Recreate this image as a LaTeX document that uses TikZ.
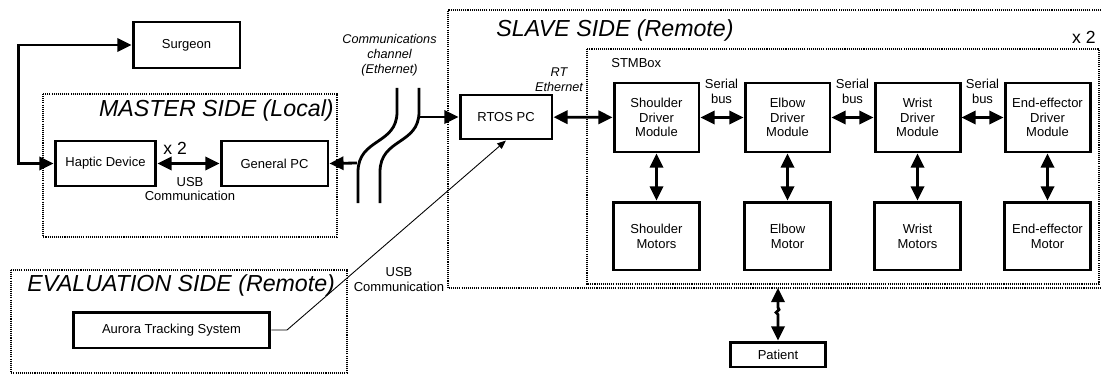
\documentclass[tikz,border=0pt]{standalone}
\usepackage{fontspec}
\setmainfont{Liberation Sans}
\usetikzlibrary{arrows.meta}
\newcommand{\blkfont}{\fontsize{7.4}{8.4}\selectfont}
\newcommand{\sidefont}{\fontsize{13.2}{15}\selectfont\itshape}
\newcommand{\repfont}{\fontsize{10}{12}\selectfont}
\tikzset{
	blk/.style={draw, line width=1.7pt, align=center, font=\blkfont, inner sep=1pt},
	drvbox/.style={blk, minimum width=1.7cm, minimum height=1.38cm},
	motbox/.style={blk, minimum width=1.72cm, minimum height=1.36cm},
	grp/.style={line width=1.2pt, dash pattern=on 0.6pt off 0.6pt},
	conn/.style={line width=1.6pt},
	lbl/.style={align=center, font=\blkfont, inner sep=0pt},
	ilbl/.style={align=center, font=\fontsize{7.2}{8.5}\selectfont\itshape, inner sep=0pt},
	>={Triangle[length=8pt,width=7.5pt]}
}

\begin{document}
\begin{tikzpicture}[x=0.02cm, y=-0.02cm]
	\useasboundingbox (0,0) rectangle (1101,375);
	
	% dotted groups
	\draw[grp] (43,94) rectangle (337,237);
	\draw[grp] (11,270) rectangle (347,373);
	\draw[grp] (1101,10) -- (448,10) -- (448,288) -- (1101,288);
	\draw[grp] (587,49) rectangle (1099,284);
	
	\node[anchor=east, font=\sidefont, inner sep=0pt] (mastertitle) at (334,110) {MASTER SIDE (Local)};
	\node[font=\sidefont, inner sep=0pt] (slavetitle) at (615,30) {SLAVE SIDE (Remote)};
	\node[anchor=west, font=\sidefont, inner sep=0pt] (evaltitle) at (27,285) {EVALUATION SIDE (Remote)};
	\node[lbl, anchor=west] (stmlabel) at (611,63) {STMBox};
	\node[anchor=east, font=\repfont, inner sep=0pt] (reptop) at (1096,37) {x 2};
	
	% blocks
	\node[blk, minimum width=2.14cm, minimum height=0.92cm] (surgeon) at (186.5,45) {Surgeon};
	\node[blk, minimum width=2.02cm, minimum height=0.9cm] (haptic) at (105.5,163.5) {Haptic Device};
	\node[blk, minimum width=2.14cm, minimum height=0.9cm] (genpc) at (274.5,163.5) {General PC};
	\node[blk, minimum width=1.84cm, minimum height=0.88cm] (rtos) at (506,117) {RTOS PC};
	\node[blk, minimum width=3.94cm, minimum height=0.72cm] (aurora) at (171.5,330) {Aurora Tracking System};
	\node[blk, minimum width=1.9cm, minimum height=0.5cm] (patient) at (778,354.5) {Patient};
	
	\foreach \nm/\x/\dtxt/\mtxt in {shoulder/656.5/{Shoulder\\Driver\\Module}/{Shoulder\\Motors},
		elbow/787.5/{Elbow\\Driver\\Module}/{Elbow\\Motor},
		wrist/917.5/{Wrist\\Driver\\Module}/{Wrist\\Motors},
		end/1047.5/{End-effector\\Driver\\Module}/{End-effector\\Motor}}{
		\node[drvbox] (\nm-drv) at (\x,117.5) {\dtxt};
		\node[motbox] (\nm-mot) at (\x,236) {\mtxt};
		\draw[conn,<->] (\nm-drv) -- (\nm-mot);
	}
	
	\foreach \a/\b/\x in {shoulder/elbow/721.5, elbow/wrist/852.5, wrist/end/982.5}{
		\draw[conn,<->] (\a-drv) -- (\b-drv);
		\node[lbl] (bus-\a) at (\x,91.5) {Serial\\bus};
	}
	
	% master side
	\draw[conn,<->] (surgeon.west) -- ++(-113,0) |- (haptic.west);
	\draw[conn,<->] (haptic) -- (genpc);
	\node[anchor=west, font=\repfont, inner sep=0pt] (repmaster) at (163,148) {x 2};
	\node[lbl] (usbmaster) at (190,189) {USB\\Communication};
	
	% communications channel
	\draw[conn] (397,88) -- (397,112) .. controls (397,145) and (358,138) .. (358,172) -- (358,203);
	\draw[conn] (419,88) -- (419,112) .. controls (419,145) and (380,138) .. (380,172) -- (380,203);
	\node[ilbl] (chanlabel) at (389.5,55) {Communications\\channel\\(Ethernet)};
	\coordinate (chanL) at (357,163);
	\coordinate (chanR) at (420,117);
	\draw[conn,->] (chanL) -- (genpc.east);
	\draw[conn,->] (chanR) -- (rtos.west);
	
	% slave side
	\draw[conn,<->] (rtos) -- (shoulder-drv);
	\node[ilbl] (rteth) at (559,79.5) {RT\\Ethernet};
	
	% evaluation side
	\coordinate (usbbend) at (287,330);
	\draw[line width=0.5pt, -{Triangle[length=5pt,width=4pt]}] (aurora.east) -- (usbbend) -- (rtos.south);
	\node[lbl] (usbeval) at (399,279.5) {USB\\Communication};
	
	% patient
	\coordinate (slavebot) at (778,288);
	\draw[conn,<->] (patient.north) -- ++(0,-26) -- ++(-2,-2) -- ++(3,-3) -- ++(-1,-2) -- (slavebot);
\end{tikzpicture}
\end{document}
